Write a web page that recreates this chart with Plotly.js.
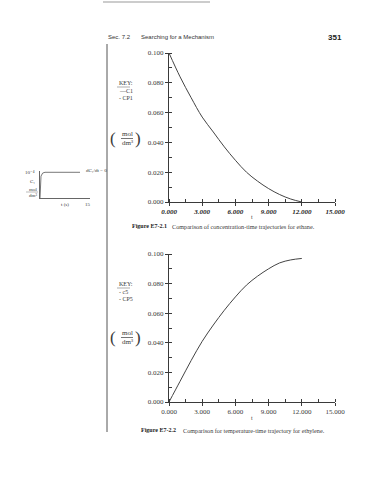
<!DOCTYPE html>
<html><head><meta charset="utf-8">
<script src="https://cdn.plot.ly/plotly-3.0.1.min.js"></script>
<style>html,body{margin:0;padding:0;background:#fff}#c{width:370px;height:480px}</style>
</head><body><div id="c"></div>
<script>
// ---- data ----
const tEthane   = [0, 1, 2, 3, 4, 5, 6, 7, 8, 9, 10, 11, 12];
const cEthane   = [0.100, 0.084, 0.070, 0.057, 0.047, 0.037, 0.028, 0.020, 0.014, 0.009, 0.005, 0.002, 0.000];
const tEthylene = [0, 1, 2, 3, 4, 5, 6, 7, 8, 9, 10, 11, 12];
const cEthylene = [0.000, 0.014, 0.028, 0.041, 0.052, 0.062, 0.071, 0.079, 0.085, 0.090, 0.094, 0.096, 0.097];
const xTickVals = [0, 3, 6, 9, 12, 15];
const xTickText = ['0.000', '3.000', '6.000', '9.000', '12.000', '15.000'];
const yTickVals = [0, 0.02, 0.04, 0.06, 0.08, 0.10];
const yTickText = ['0.000', '0.020', '0.040', '0.060', '0.080', '0.100'];
const insetT = [0, 0.3, 0.8, 1.5, 12];
const insetC = [0, 0.85, 0.97, 1, 1];

// ---- helpers (layout only) ----
const W = 370, H = 480;
const px = x => x / W, py = y => 1 - y / H;
const ink = '#3a3a3a';
const serif = 'Liberation Serif, DejaVu Serif, serif';
const sans = 'Liberation Sans, Arial, sans-serif';

function axis(extra) {
  return Object.assign({
    showline: true, linecolor: ink, linewidth: 1,
    ticks: 'outside', ticklen: 3, tickwidth: 1, tickcolor: ink,
    showgrid: false, zeroline: false, fixedrange: true,
    tickfont: { family: serif, size: 7, color: ink }
  }, extra);
}

const traces = [
  { x: tEthane, y: cEthane, xaxis: 'x', yaxis: 'y', mode: 'lines',
    line: { color: '#444', width: 1, shape: 'spline' }, hoverinfo: 'skip' },
  { x: tEthylene, y: cEthylene, xaxis: 'x2', yaxis: 'y2', mode: 'lines',
    line: { color: '#444', width: 1, shape: 'spline' }, hoverinfo: 'skip' },
  { x: insetT, y: insetC, xaxis: 'x3', yaxis: 'y3', mode: 'lines',
    line: { color: '#777', width: 1 }, hoverinfo: 'skip' }
];

function ann(text, x, y, size, opts) {
  return Object.assign({ text: text, xref: 'paper', yref: 'paper', x: px(x), y: py(y),
    xanchor: 'left', yanchor: 'middle', showarrow: false,
    font: { family: serif, size: size, color: ink } }, opts || {});
}

const annotations = [
  ann('Sec. 7.2', 106, 37, 6, { font: { family: sans, size: 6, color: '#333' } }),
  ann('Searching for a Mechanism', 139, 37, 6, { font: { family: sans, size: 6, color: '#333' } }),
  ann('351', 344, 37, 8, { xanchor: 'right', font: { family: sans, size: 8, color: '#222', weight: 'bold' } }),
  // top chart key
  ann('KEY:', 117, 83, 6),
  ann('—C1', 117, 91, 6),
  ann('- CP1', 117, 98, 6),
  ann('(', 113, 138, 17, { xanchor: 'center' }),
  ann(')', 138, 138, 17, { xanchor: 'center' }),
  ann('mol', 127, 134, 7, { xanchor: 'center' }),
  ann('dm³', 127, 143, 7, { xanchor: 'center' }),
  ann('t', 252, 217, 6, { xanchor: 'center' }),
  ann('Figure E7-2.1', 130, 226, 6, { font: { family: serif, size: 6, color: '#222', weight: 'bold' } }),
  ann('Comparison of concentration-time trajectories for ethane.', 170, 226, 6.2),
  // bottom chart key
  ann('KEY:', 117, 284, 6),
  ann('- c5', 117, 292, 6),
  ann('- CP5', 117, 299, 6),
  ann('(', 113, 337, 17, { xanchor: 'center' }),
  ann(')', 138, 337, 17, { xanchor: 'center' }),
  ann('mol', 127, 333, 7, { xanchor: 'center' }),
  ann('dm³', 127, 342, 7, { xanchor: 'center' }),
  ann('t', 252, 418, 6, { xanchor: 'center' }),
  ann('Figure E7-2.2', 139, 430, 6, { font: { family: serif, size: 6, color: '#222', weight: 'bold' } }),
  ann('Comparison for temperature-time trajectory for ethylene.', 181, 430, 6.2),
  // inset labels
  ann('10⁻⁴', 30, 172, 5, { xanchor: 'center' }),
  ann('C₁', 32, 181, 5, { xanchor: 'center' }),
  ann('mol', 33, 189, 5, { xanchor: 'center' }),
  ann('dm³', 33, 195, 5, { xanchor: 'center' }),
  ann('t (s)', 65, 205, 5, { xanchor: 'center' }),
  ann('15', 88, 204, 5, { xanchor: 'center' }),
  ann('dC₁/dt = 0', 84, 170, 5, { xanchor: 'left' })
];

const hl = (x0, x1, y, c, w) => ({ type: 'line', xref: 'paper', yref: 'paper', x0: px(x0), x1: px(x1), y0: py(y), y1: py(y), line: { color: c, width: w } });
const shapes = [
  hl(103, 210, 2, '#999', 1),
  { type: 'line', xref: 'paper', yref: 'paper', x0: px(107), x1: px(107), y0: py(44), y1: py(432), line: { color: '#555', width: 1 } },
  hl(121, 133, 138.5, ink, 0.7),
  hl(121, 133, 337.5, ink, 0.7),
  hl(117, 130, 87, '#777', 0.6),
  hl(117, 130, 288, '#777', 0.6),
  hl(26, 38, 192, '#777', 0.5)
];

const layout = {
  width: W, height: H, margin: { l: 0, r: 0, t: 0, b: 0 },
  paper_bgcolor: '#fff', plot_bgcolor: 'rgba(0,0,0,0)', showlegend: false,
  xaxis: axis({ domain: [px(169), px(335)], range: [0, 15], anchor: 'y',
    tickmode: 'array', tickvals: xTickVals, ticktext: xTickText,
    tickfont: { family: serif, size: 7, color: '#222', weight: 'bold', style: 'italic' },
    minor: { dtick: 1.5, tick0: 0, ticks: 'inside', ticklen: 3, tickcolor: ink } }),
  yaxis: axis({ domain: [py(202), py(53)], range: [0, 0.1], anchor: 'x',
    tickmode: 'array', tickvals: yTickVals, ticktext: yTickText,
    minor: { dtick: 0.01, tick0: 0, ticks: 'inside', ticklen: 3, tickcolor: ink } }),
  xaxis2: axis({ domain: [px(169), px(335)], range: [0, 15], anchor: 'y2',
    tickmode: 'array', tickvals: xTickVals, ticktext: xTickText,
    minor: { dtick: 1.5, tick0: 0, ticks: 'inside', ticklen: 3, tickcolor: ink } }),
  yaxis2: axis({ domain: [py(402), py(254)], range: [0, 0.1], anchor: 'x2',
    tickmode: 'array', tickvals: yTickVals, ticktext: yTickText,
    minor: { dtick: 0.01, tick0: 0, ticks: 'inside', ticklen: 3, tickcolor: ink } }),
  xaxis3: { domain: [px(40), px(90)], range: [0, 15], anchor: 'y3', showline: true,
    linecolor: '#666', linewidth: 1, showticklabels: false, ticks: '', showgrid: false, zeroline: false, fixedrange: true },
  yaxis3: { domain: [py(198), py(171)], range: [0, 1.05], anchor: 'x3', showline: true,
    linecolor: '#666', linewidth: 1, showticklabels: false, ticks: '', showgrid: false, zeroline: false, fixedrange: true },
  annotations: annotations,
  shapes: shapes
};

Plotly.newPlot('c', traces, layout, { staticPlot: true, displayModeBar: false });
</script>
</body></html>
